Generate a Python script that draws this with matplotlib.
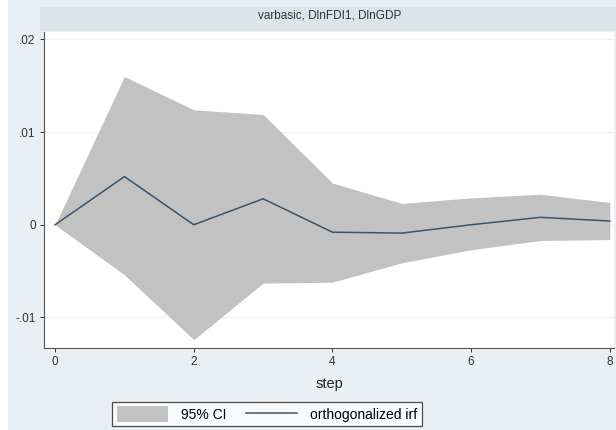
import matplotlib
matplotlib.use("Agg")
import matplotlib.pyplot as plt
import matplotlib.patches as mpatches
from matplotlib.lines import Line2D

plt.rcParams['font.family'] = ['Liberation Sans', 'DejaVu Sans']

# impulse response values
steps = [0, 1, 2, 3, 4, 5, 6, 7, 8]
irf = [0.0, 0.0052, 0.0, 0.0028, -0.0008, -0.0009, 0.0, 0.0008, 0.0004]
ci_upper = [0.0, 0.0160, 0.0124, 0.0119, 0.0045, 0.0023, 0.0029, 0.0033, 0.0024]
ci_lower = [0.0, -0.0054, -0.0124, -0.0063, -0.0062, -0.0041, -0.0027, -0.0017, -0.0016]

y_ticks = [-0.01, 0, 0.01, 0.02]
y_tick_labels = ['-.01', '0', '.01', '.02']
x_ticks = [0, 2, 4, 6, 8]

bg = '#e9eff2'
band = '#dbe4e9'
fill_col = '#c2c2c2'
line_col = '#3b536b'

fig = plt.figure(figsize=(6.16, 4.30), dpi=100, facecolor=bg)

# white strip at far left (screenshot edge) and title band
fig.patches.append(mpatches.Rectangle((0, 0), 8 / 616, 1, transform=fig.transFigure,
                                      facecolor='white', edgecolor='none', zorder=0))
fig.patches.append(mpatches.Rectangle((40 / 616, 1 - 31 / 430), 1, 24 / 430,
                                      transform=fig.transFigure,
                                      facecolor=band, edgecolor='none', zorder=0))
fig.text(330 / 616, 1 - 16 / 430, 'varbasic, DlnFDI1, DlnGDP', ha='center', va='center',
         fontsize=8.5, color='#333333')

ax = fig.add_axes([44 / 616, 82 / 430, 570 / 616, 316 / 430])
ax.set_facecolor('white')

ax.fill_between(steps, ci_lower, ci_upper, color=fill_col, linewidth=0, zorder=2)
ax.plot(steps, irf, color=line_col, linewidth=1.1, zorder=3)

ax.set_xlim(-0.16, 8.06)
ax.set_ylim(-0.0133, 0.0208)

ax.set_yticks(y_ticks)
ax.set_yticklabels(y_tick_labels)
ax.set_xticks(x_ticks)
ax.tick_params(axis='both', labelsize=8.5, colors='#333333', direction='out', length=3,
               width=0.7, pad=3)
ax.grid(axis='y', color='#eef2f4', linewidth=0.8, zorder=1)

for side in ['top', 'right']:
    ax.spines[side].set_visible(False)
for side in ['left', 'bottom']:
    ax.spines[side].set_color('#555555')
    ax.spines[side].set_linewidth(0.8)

ax.set_xlabel('step', fontsize=10.5, color='#222222', labelpad=6)

handles = [mpatches.Patch(facecolor=fill_col, edgecolor='none', label='95% CI'),
           Line2D([0], [0], color=line_col, linewidth=1.1, label='orthogonalized irf')]
leg = fig.legend(handles=handles, loc='center', bbox_to_anchor=(267 / 616, 1 - 414 / 430),
                 ncol=2, fontsize=10, frameon=True, fancybox=False, handlelength=3.7,
                 handleheight=1.3, columnspacing=1.4, borderpad=0.35, handletextpad=0.9)
leg.get_frame().set_edgecolor('#222222')
leg.get_frame().set_linewidth(0.9)
leg.get_frame().set_facecolor('white')

fig.savefig('out.png', dpi=100, facecolor=fig.get_facecolor())
